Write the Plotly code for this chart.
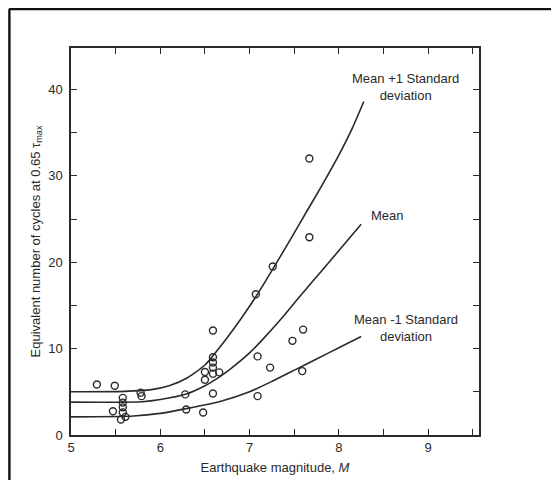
import plotly.graph_objects as go

# ---- data ----
point_m = [5.29, 5.49, 5.47, 5.58, 5.58, 5.58, 5.58, 5.61, 5.56, 5.78, 5.79,
           6.28, 6.29, 6.48, 6.50, 6.50, 6.59, 6.59, 6.59, 6.59, 6.59, 6.59, 6.66,
           7.07, 7.09, 7.23, 7.09, 7.26, 7.48, 7.60, 7.59, 7.67, 7.67]
point_n = [5.85, 5.7, 2.75, 4.3, 3.75, 3.2, 2.6, 2.1, 1.8, 4.9, 4.5,
           4.7, 2.95, 2.6, 7.3, 6.4, 4.8, 12.1, 9.0, 8.4, 7.8, 7.1, 7.25,
           16.3, 9.1, 7.8, 4.5, 19.5, 10.9, 12.2, 7.4, 32.0, 22.9]

upper_m = [5.0, 5.6, 5.9, 6.1, 6.3, 6.5, 6.7, 6.9, 7.07, 7.26, 7.45, 7.63, 7.8, 8.0, 8.15, 8.28]
upper_n = [5.0, 5.05, 5.25, 5.7, 6.6, 8.1, 10.6, 13.4, 16.0, 19.2, 22.5, 25.7, 28.7, 32.4, 35.5, 38.6]

mean_m = [5.0, 5.8, 6.0, 6.29, 6.5, 6.66, 6.78, 7.0, 7.15, 7.35, 7.52, 7.7, 7.89, 8.07, 8.25]
mean_n = [3.8, 3.85, 4.1, 4.74, 5.7, 6.7, 7.6, 9.5, 11.1, 13.4, 15.5, 17.7, 20.0, 22.2, 24.4]

lower_m = [5.0, 5.7, 6.0, 6.29, 6.66, 7.0, 7.25, 7.52, 7.75, 8.0, 8.25]
lower_n = [2.1, 2.2, 2.5, 3.05, 3.85, 5.0, 6.2, 7.6, 8.8, 10.1, 11.4]

x_tick_vals = [5, 5.5, 6, 6.5, 7, 7.5, 8, 8.5, 9, 9.5]
x_tick_text = ["5", "", "6", "", "7", "", "8", "", "9", ""]
y_tick_vals = [0, 5, 10, 15, 20, 25, 30, 35, 40]
y_tick_text = ["0", "", "10", "", "20", "", "30", "", "40"]

curve_labels = ["Mean +1 Standard<br>deviation", "Mean", "Mean -1 Standard<br>deviation"]
label_m = [8.75, 8.54, 8.75]
label_n = [40.3, 25.4, 12.4]

INK = "#2a2a2a"
FONT = "Liberation Sans, Arial, sans-serif"

fig = go.Figure()
for xs, ys in [(upper_m, upper_n), (mean_m, mean_n), (lower_m, lower_n)]:
    fig.add_trace(go.Scatter(x=xs, y=ys, mode="lines",
                             line=dict(color=INK, width=1.6, shape="spline", smoothing=0.6),
                             showlegend=False, hoverinfo="skip"))

fig.add_trace(go.Scatter(x=point_m, y=point_n, mode="markers",
                         marker=dict(symbol="circle-open", size=7, color=INK,
                                     line=dict(width=1.4, color=INK)),
                         showlegend=False))

axis_common = dict(showgrid=False, zeroline=False, showline=True, linecolor=INK,
                   linewidth=1.5, mirror="ticks", ticks="inside", ticklen=6,
                   tickwidth=1.2, tickcolor=INK,
                   tickfont=dict(family=FONT, size=13, color=INK))

fig.update_xaxes(range=[5, 9.57], tickmode="array", tickvals=x_tick_vals,
                 ticktext=x_tick_text,
                 title=dict(text="Earthquake magnitude, <i>M</i>", standoff=9,
                            font=dict(family=FONT, size=13, color=INK)),
                 **axis_common)
fig.update_yaxes(range=[0, 44.8], tickmode="array", tickvals=y_tick_vals,
                 ticktext=y_tick_text, ticklabelstandoff=4,
                 title=dict(text="Equivalent number of cycles at 0.65 τ<sub>max</sub>",
                            standoff=5,
                            font=dict(family=FONT, size=13, color=INK)),
                 **axis_common)

# curve labels
for txt, lx, ly in zip(curve_labels, label_m, label_n):
    fig.add_annotation(x=lx, y=ly, text=txt, showarrow=False, xanchor="center",
                       yanchor="middle", align="center",
                       font=dict(family=FONT, size=13, color=INK))

# outer frame (top and left edges of the scanned page)
fig.add_shape(type="line", xref="paper", yref="paper", x0=-0.152, x1=1.25,
              y0=1.1005, y1=1.1005, line=dict(color="#111", width=2.4))
fig.add_shape(type="line", xref="paper", yref="paper", x0=-0.151, x1=-0.151,
              y0=1.1005, y1=-0.2, line=dict(color="#111", width=2.4))

# the page body adds an 8px offset, so margins are reduced by 8px on top/left
fig.update_layout(width=559, height=480, plot_bgcolor="white", paper_bgcolor="white",
                  margin=dict(l=63, r=88, t=40, b=53),
                  font=dict(family=FONT, color=INK))

fig.write_html("out.html")
